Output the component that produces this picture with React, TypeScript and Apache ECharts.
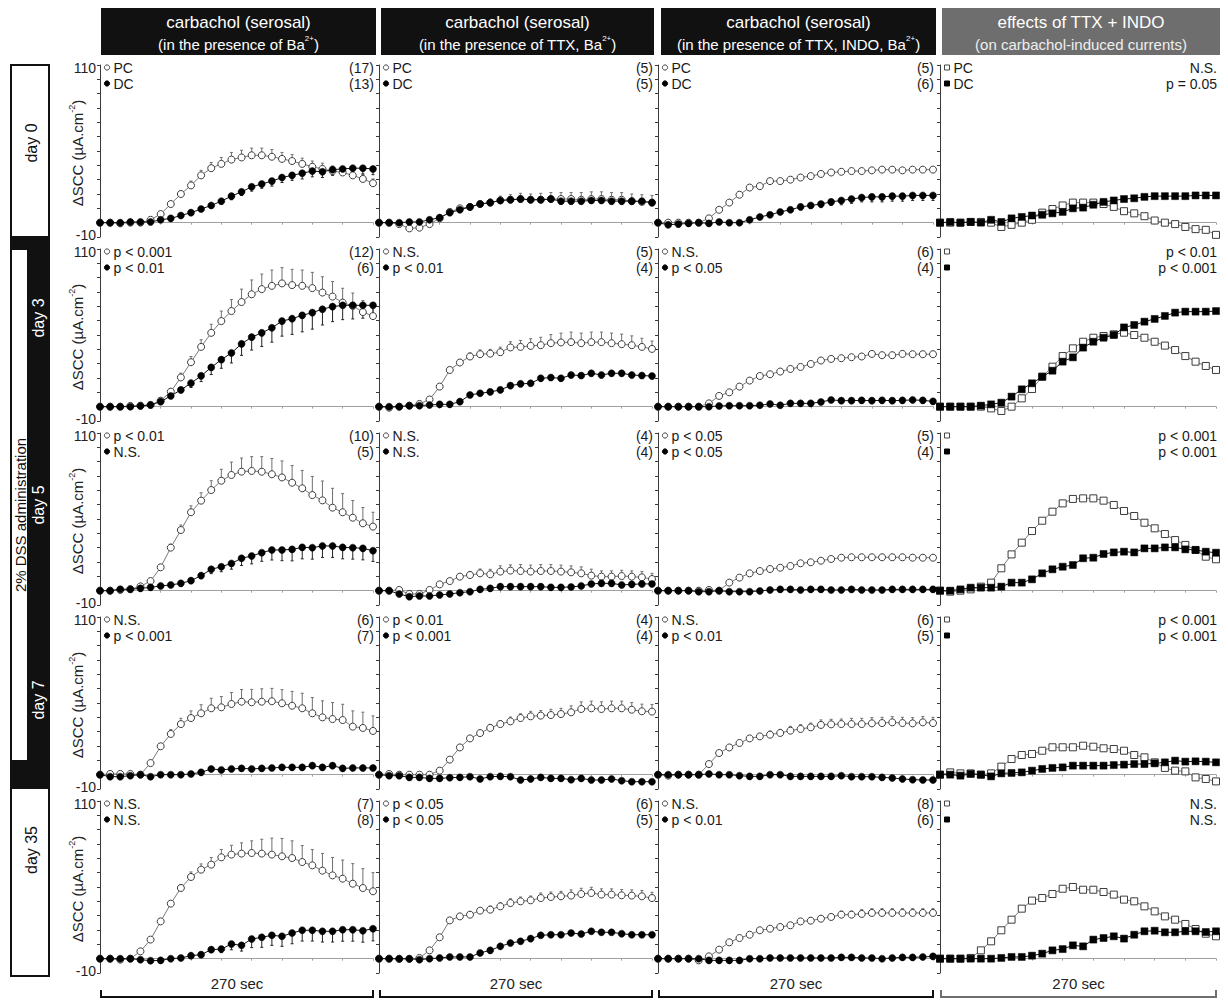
import React, { useEffect, useRef } from "react";
import * as echarts from "echarts";

// ---------------- data ----------------
const timeSec = [0, 10, 20, 30, 40, 50, 60, 70, 80, 90, 100, 110, 120, 130, 140, 150, 160, 170, 180, 190, 200, 210, 220, 230, 240, 250, 260, 270];

const rowLabels = ["day 0", "day 3", "day 5", "day 7", "day 35"];
const headerTitles = ["carbachol (serosal)", "carbachol (serosal)", "carbachol (serosal)", "effects of TTX + INDO"];
const headerSubs = ["(in the presence of Ba", "(in the presence of TTX, Ba", "(in the presence of TTX, INDO, Ba", "(on carbachol-induced currents)"];
const headerSups = ["2+", "2+", "2+", ""];
const yTickLabels = [110, -10];
const durationLabel = "270 sec";
const groupLabel = "2% DSS administration";

// day 0
const pc_d0_ba = [0, 0, -0.5, 0, 0, 2, 6, 13, 20, 26, 33, 38, 41, 44, 45.5, 47, 47, 46, 44.5, 43, 41, 39, 37.5, 36, 35, 33, 30.5, 27.5];
const pcErr_d0_ba = [0, 0, 0, 0, 0, 0.5, 1, 1.5, 2, 3, 3.5, 4, 4.5, 5, 5, 5, 5, 5, 4.5, 4.5, 4, 4, 4, 3.5, 3.5, 3.5, 3, 3];
const dc_d0_ba = [0, 0, 0, 0.5, 0.5, 0.5, 2, 3, 5, 7, 9.5, 12, 15, 18.5, 21.5, 25, 27, 29, 31.5, 33, 34.5, 36, 35.5, 37, 37.5, 38, 38, 37.5];
const dcErr_d0_ba = [0, 0, 0, 0, 0, 0, 0.5, 0.5, 1, 1, 1.5, 1.5, 2, 2.5, 2.5, 3, 3, 3.5, 3.5, 3.5, 4, 4, 4, 4, 4, 4, 4, 4];

const pc_d0_ttx = [0, 0, -1, -4, -3.5, -1, 3, 7.5, 10, 11, 13, 14, 15.5, 16, 16.5, 16, 16, 16.5, 16.5, 16.5, 16, 16.5, 16.5, 16, 16, 15, 14.5, 14];
const pcErr_d0_ttx = [0, 0, 0, 0, 0, 0, 0.5, 1, 1, 1.5, 2, 2.5, 3, 3.5, 4, 4, 4.5, 4.5, 4.5, 4.5, 5, 5, 5, 5, 5, 5, 5, 5];
const dc_d0_ttx = [0, 0, 0, 0.5, 0.5, 2, 3.5, 7, 9, 11, 13, 14, 15.5, 16, 16.5, 16, 16, 16.5, 15, 15, 15, 15.5, 15.5, 15, 15, 15, 15, 14];
const dcErr_d0_ttx = [0, 0, 0, 0, 0, 0, 0.5, 0.5, 1, 1, 1, 1.5, 1.5, 1.5, 1.5, 1.5, 2, 2, 2, 2, 2, 2, 2, 2, 2, 2, 2, 2];

const pc_d0_indo = [0, 0, 0, 0, 0, 3, 9, 14, 19.5, 24.5, 25.5, 29, 29, 30, 31.5, 32.5, 34, 35, 35.5, 36, 36, 36.5, 37, 37, 36.5, 37, 37, 37];
const pcErr_d0_indo = [0, 0, 0, 0, 0, 0, 0.5, 0.5, 0.5, 1, 1, 1, 1, 1, 1, 1, 1, 1, 1, 1, 1, 1, 1, 1, 1, 1, 1, 1];
const dc_d0_indo = [0, -1.5, -1, -0.5, 0, -0.5, 0.5, 0, 0, 2, 4, 5.5, 7.5, 9, 11, 12, 13, 14.5, 15.5, 16.5, 17.5, 18, 18, 18.5, 18.5, 19, 19, 19];
const dcErr_d0_indo = [0, 0, 0, 0, 0, 0, 0, 0, 0, 0.5, 1, 1, 1.5, 1.5, 2, 2, 2.5, 2.5, 3, 3, 3, 3.5, 3.5, 3.5, 3.5, 3.5, 3.5, 3.5];

const pc_d0_eff = [0, 0, 0, 0.5, 0.5, 0, -3, -1.5, 0, 2, 7, 9.5, 12, 14, 14, 14, 13, 11, 8, 6.5, 4.5, 1.5, 0, -1, -3, -4.5, -5, -8.5];
const dc_d0_eff = [0, 0.5, 0, 0.5, 0, 2, 0.5, 3, 4, 5, 5.5, 6.5, 7.5, 10, 10.5, 12.5, 14.5, 15.5, 16.5, 17, 18, 18.5, 18.5, 18.5, 18.5, 19, 19, 19];

// day 3
const pc_d3_ba = [0, 0, 0, 0.5, 0.7, 1.2, 4.2, 10.5, 20.4, 31, 41.7, 51.5, 59.7, 66.7, 73, 78.4, 82, 84.3, 86, 84.8, 84.3, 82.7, 79.6, 76.8, 72.6, 70.3, 66, 63.2];
const pcErr_d3_ba = [0, 0, 0, 0, 0, 0.5, 1, 2, 3, 4, 5, 6, 7, 8, 9, 10, 10.5, 11, 11, 11, 11, 11, 11, 10.5, 10, 9, 8, 7];
const dc_d3_ba = [0, 0, 0, 0, 0.5, 1.2, 3.5, 7.5, 11.7, 16.4, 21.5, 27.4, 32.8, 37.5, 43.8, 48.5, 51.5, 55, 59.7, 61.4, 63.7, 65.6, 68, 69.8, 70.7, 70.7, 70.7, 70.7];
const dcErr_d3_ba = [0, 0, 0, 0, 0, 0, 1, 1.5, 2, 3, 4, 5, 6, 7, 8, 9, 9.5, 10, 10.5, 11, 11.5, 11.5, 11, 10.5, 10, 9.5, 9, 8.5];

const pc_d3_ttx = [0, -0.7, 0, 0.7, 1.9, 5, 14, 25.6, 30.8, 35, 36.6, 37, 38, 41.3, 41.7, 42.4, 42.9, 44.3, 44.8, 45, 44.3, 45, 45, 44.3, 43.6, 42.9, 41.7, 40.3];
const pcErr_d3_ttx = [0, 0, 0, 0, 0, 0.5, 1, 1.5, 2, 2.5, 3, 3, 3.5, 4, 4.5, 5, 5.5, 6, 6.5, 7, 7, 7, 7, 7, 7, 6.5, 6, 5.5];
const dc_d3_ttx = [0, 0, 0, 0.7, 0.7, 1.2, 1.6, 1.6, 3.5, 8.2, 9.3, 10.3, 11.7, 14.7, 15.9, 16.3, 19.8, 20.3, 19.8, 22.1, 21.7, 23.3, 22.1, 23.3, 23.3, 22.1, 21.7, 21.4];
const dcErr_d3_ttx = [0, 0, 0, 0, 0, 0, 0, 0, 0.5, 1, 1, 1, 1, 1.5, 1.5, 1.5, 2, 2, 2, 2, 2, 2, 2, 2, 2, 2, 2, 2];

const pc_d3_indo = [0, 0, 0, 0, 0, 2.3, 7.5, 10, 14, 18.2, 21.4, 22.6, 24.5, 26.3, 27.7, 29.8, 32.2, 33.3, 33.8, 34.5, 35, 36.8, 35.9, 35.9, 36.8, 36.6, 36.6, 36.6];
const pcErr_d3_indo = [0, 0, 0, 0, 0, 0, 0.5, 0.5, 0.5, 0.5, 1, 1, 1, 1, 1, 1, 1.5, 1.5, 1.5, 1.5, 2, 2, 2, 2, 2, 2, 2, 2];
const dc_d3_indo = [0, 0, 0, 0, 0, 0, 0.5, 0.7, 0.7, 0.7, 1, 1.9, 1, 2.3, 2.3, 2.3, 3.3, 4.7, 4.2, 4.2, 4.4, 4.2, 4.4, 4.2, 4.4, 4.7, 4.4, 3.7];
const dcErr_d3_indo = [0, 0, 0, 0, 0, 0, 0, 0, 0, 0, 0.5, 0.5, 0.5, 0.5, 0.5, 0.5, 1, 1, 1, 1, 1, 1, 1, 1, 1, 1, 1, 1];

const pc_d3_eff = [0, 0, 0, 0, 0, -1.2, -3, 0, 5.8, 12.3, 20.9, 27.9, 35.3, 40.7, 45.3, 48.1, 49.3, 50.5, 51.6, 50, 48.1, 45.3, 42.6, 39.5, 35.3, 31.4, 28.4, 25.6];
const dc_d3_eff = [0, 0, 0, 0, 0.7, 1.6, 2.8, 7, 12.1, 16.3, 20.9, 25.1, 31.4, 34.4, 41.2, 45.3, 48.1, 50, 55.3, 57, 59.3, 61.2, 63.3, 65.6, 66.3, 66.3, 66.3, 66.7];

// day 5
const pc_d5_ba = [0, 0, 0.5, 1, 3, 6.7, 16.3, 30, 42.3, 54.7, 62.8, 70.2, 76.7, 80.7, 83, 83.5, 83, 81.2, 79, 75.3, 71.4, 66.7, 63, 57.9, 54.7, 50.9, 47, 44.7];
const pcErr_d5_ba = [0, 0, 0, 0, 0.5, 1, 1.5, 2.5, 3.5, 4.5, 5.5, 6.5, 8, 9, 9.5, 10, 10.5, 11, 11.5, 12, 12.5, 13, 13.5, 13.5, 13, 12, 11, 10];
const dc_d5_ba = [0, 0, 1, 1, 1.6, 2.3, 3.3, 4, 5.1, 7, 10.5, 14.9, 16.7, 19, 22.6, 24.2, 26.5, 28.4, 28.4, 28.8, 30.2, 30, 31.2, 31.2, 30.2, 30, 29.5, 27.9];
const dcErr_d5_ba = [0, 0, 0, 0, 0, 0.5, 0.5, 1, 1, 1.5, 2, 3, 3.5, 4, 5, 5.5, 6, 7, 7.5, 8, 8, 8, 8, 8, 8, 8, 8, 7.5];

const pc_d5_ttx = [0, 0, 0.5, -2.3, -2.3, 0.5, 4.4, 6.7, 9.8, 10.9, 12.1, 11.4, 13.3, 14, 13.7, 13.3, 13.7, 13.7, 13.3, 12.8, 12.1, 10.5, 9.8, 9.8, 10.2, 9.8, 9.3, 8.1];
const pcErr_d5_ttx = [0, 0, 0, 0, 0, 0.5, 1, 1.5, 2, 2.5, 3, 3.5, 4, 4, 4.5, 4.5, 4.5, 4.5, 4.5, 4.5, 4.5, 4.5, 4, 4, 4, 4, 4, 4];
const dc_d5_ttx = [0, 0, -2.3, -4.2, -3.7, -3.7, -3, -2.3, -1.4, -0.7, 0.9, 1.6, 2.8, 2.8, 2.8, 2.8, 2.8, 2.3, 2.3, 2.6, 3.3, 4.7, 5.1, 5.1, 4, 4.4, 4.7, 4.7];
const dcErr_d5_ttx = [0, 0, 0, 0, 0.5, 0.5, 0.5, 0.5, 0.5, 0.5, 0.5, 0.5, 1, 1, 1, 1, 1, 1, 1, 1, 1, 1, 1, 1, 1, 1, 1, 1];

const pc_d5_indo = [0, 0, 0, 0, 0, 0.5, 0, 5.6, 9.1, 12.1, 13.7, 15.1, 16, 17.2, 19.1, 19.8, 20.9, 22.1, 23, 23.3, 23.3, 23.3, 23.3, 23.3, 23.3, 23, 23, 23];
const pcErr_d5_indo = [0, 0, 0, 0, 0, 0, 0, 0.5, 0.5, 0.5, 1, 1, 1, 1, 1, 1, 1.5, 1.5, 1.5, 1.5, 2, 2, 2, 2, 2, 2, 2, 2];
const dc_d5_indo = [0, 0, 0, 0, -0.7, -0.7, 0, -0.7, -0.7, -0.7, -0.2, 0.5, 0.9, 0.9, 0.5, 0.9, 0.9, 0.5, 0.5, 0.9, 0.5, 0.5, 0.5, 0.9, 0.9, 0.9, 0.9, 0.9];
const dcErr_d5_indo = [0, 0, 0, 0, 0, 0, 0, 0, 0, 0, 0, 0.5, 0.5, 0.5, 0.5, 0.5, 0.5, 0.5, 0.5, 0.5, 0.5, 0.5, 0.5, 0.5, 0.5, 0.5, 0.5, 0.5];

const pc_d5_eff = [0, -0.7, 0, 0.9, 2.8, 5.6, 15.6, 25.3, 33.5, 41.6, 48.8, 55.1, 60.9, 64, 64.4, 64.4, 62.8, 59.8, 55.6, 52.1, 47.4, 43.5, 39.5, 35.3, 31.9, 28.4, 23.7, 21.9];
const dc_d5_eff = [0, 0, 0.9, 2.1, 2.1, 2.1, 2.8, 5.6, 5.6, 7.9, 12.1, 14.9, 16.7, 17.9, 22.6, 23, 25.6, 26.7, 27.2, 26.7, 29.5, 29.5, 30.2, 30.2, 28.8, 28.4, 27.2, 26.5];

// day 7
const pc_d7_ba = [0, 0.5, 0.5, 0.5, 0, 8.1, 19.8, 28.4, 35.3, 39.5, 42.8, 46.3, 47, 49.3, 50.9, 50.5, 50.9, 51.2, 49.8, 48.1, 46.3, 42.8, 40, 38.8, 38.1, 33.5, 32.6, 30.5];
const pcErr_d7_ba = [0, 0, 0, 0, 0, 1, 2, 3, 4, 5, 6, 7, 7.5, 8, 8.5, 9, 9, 9, 9.5, 10, 10.5, 11, 11.5, 11.5, 11, 11, 11, 10.5];
const dc_d7_ba = [0, -1.4, -1.4, -0.7, 0, -1.4, 0, 0, 0, 0.5, 1.6, 4, 3.3, 4, 4.4, 4, 4.4, 4.7, 5.1, 5.1, 5.1, 6.3, 5.1, 6.3, 4.4, 4.7, 4.7, 4.7];
const dcErr_d7_ba = [0, 0, 0, 0, 0, 0, 0, 0, 0, 0, 0.5, 0.5, 0.5, 0.5, 0.5, 1, 1, 1, 1, 1, 1, 1, 1, 1, 1, 1, 1, 1];

const pc_d7_ttx = [0, 0.5, 0, 0, 0, 0, 2.8, 10.5, 19, 25.3, 29, 32.6, 35.3, 37.2, 39.5, 40.7, 41.2, 41.6, 42.3, 43.5, 45.8, 46.3, 45.8, 46.3, 46.3, 45.3, 44.2, 44];
const pcErr_d7_ttx = [0, 0, 0, 0, 0, 0, 0.5, 1, 1.5, 2, 2, 2.5, 2.5, 3, 3, 3.5, 3.5, 4, 4, 4.5, 5, 5, 5, 5, 5, 5, 5, 5];
const dc_d7_ttx = [0, -0.7, -0.7, -1.9, -1.9, -2.6, -2.6, -2.1, -1.9, -1.4, -3, -1.4, -1.2, -1.4, -3.7, -3, -1.9, -2.6, -2.6, -3.5, -2.6, -3.7, -3.7, -3, -4.2, -4.9, -4.9, -4.9];
const dcErr_d7_ttx = [0, 0, 0, 0, 0, 0, 0, 0, 0, 0, 0.5, 0.5, 0.5, 0.5, 0.5, 0.5, 0.5, 0.5, 0.5, 0.5, 0.5, 0.5, 0.5, 0.5, 0.5, 0.5, 0.5, 0.5];

const pc_d7_indo = [0, -0.7, 0, 0, 0, 7.4, 15.1, 19, 22.1, 25.3, 26.7, 27.9, 29.1, 30.7, 31.9, 33, 34.7, 35.1, 35.3, 35.3, 35.3, 35.8, 36, 36.5, 36, 35.8, 36.5, 36];
const pcErr_d7_indo = [0, 0, 0, 0, 0, 0.5, 1, 1.5, 1.5, 2, 2, 2.5, 2.5, 3, 3, 3, 3.5, 3.5, 3.5, 4, 4, 4, 4, 4, 4, 4, 4, 4];
const dc_d7_indo = [0, 0, 0, 0, 0, 0.5, 0, 0, -0.7, -1.2, -1.2, 0, 0, -1.2, -1.2, -1.2, -1.2, -1.2, -0.7, -1.4, -1.4, -1.4, -1.9, -2.3, -3, -3.5, -3.7, -3.7];
const dcErr_d7_indo = [0, 0, 0, 0, 0, 0, 0, 0, 0, 0, 0, 0, 0, 0.5, 0.5, 0.5, 0.5, 0.5, 0.5, 0.5, 0.5, 0.5, 0.5, 0.5, 0.5, 0.5, 0.5, 0.5];

const pc_d7_eff = [0, 1.6, 0.9, 0.9, 0, 0.9, 5.6, 10.9, 13.7, 14.4, 16.7, 19.1, 19.1, 19.1, 20.2, 19.5, 18.4, 17.9, 16.7, 13.7, 12.1, 8.6, 4.7, 2.8, 2.3, -1.9, -3, -4.7];
const dc_d7_eff = [0, 0, -0.7, 0.5, 0, -1.2, 0.9, 1.2, 1.6, 2.8, 4, 4.7, 5.1, 6.3, 6.3, 6.3, 6.3, 6.7, 7, 7.4, 7.4, 7.9, 8.6, 9.8, 9.1, 9.3, 9.1, 8.6];

// day 35
const pc_d35_ba = [0, 0, -0.7, 0, 5.1, 13.3, 26, 38.4, 49.3, 57, 62.1, 65.6, 70.7, 72.6, 73.3, 73.7, 73.3, 72.6, 71.4, 70.2, 67.4, 65.1, 61.4, 58.1, 55.8, 52.3, 49.3, 47];
const pcErr_d35_ba = [0, 0, 0, 0, 0.5, 1, 1.5, 2, 2.5, 3.5, 4, 5, 5.5, 6.5, 7.5, 8.5, 10, 11.5, 12.5, 12, 11.5, 11, 12, 12.5, 13, 14, 13.5, 13];
const dc_d35_ba = [0, 0, 0, 0, -0.7, -1.4, -1.2, 0, 0.5, 2.1, 2.8, 6.3, 6.7, 10.2, 9.3, 13.7, 14.9, 16.3, 15.6, 17.9, 19.8, 19.8, 19.1, 19.1, 20.2, 20.2, 19.5, 20.9];
const dcErr_d35_ba = [0, 0, 0, 0, 0, 0, 0, 0, 0.5, 1, 1.5, 2, 2.5, 4, 4, 6, 7, 7, 7, 7.5, 7.5, 7.5, 7.5, 7.5, 8, 8, 8, 8.5];

const pc_d35_ttx = [0, 0, -0.2, -0.2, 0.5, 5.8, 14.9, 26.7, 29.5, 30.7, 33.5, 34.2, 36.5, 38.8, 40, 40.7, 42.3, 43, 43.5, 44, 45.1, 45.8, 44.7, 44.7, 44.2, 44, 43.5, 42.3];
const pcErr_d35_ttx = [0, 0, 0, 0, 0, 0.5, 1, 1.5, 1.5, 2, 2, 2.5, 2.5, 3, 3, 3, 3.5, 3.5, 3.5, 4, 4, 4, 4, 4, 4, 4, 4, 4];
const dc_d35_ttx = [0, 0, 0, 0, -0.7, 0, 0.5, 1.2, 1.2, 1.2, 4, 5.8, 8.6, 10.9, 12.1, 14, 16.3, 16.7, 16.7, 17.9, 17.2, 19.1, 18.4, 18.4, 17.4, 16.7, 16.7, 16.7];
const dcErr_d35_ttx = [0, 0, 0, 0, 0, 0, 0, 0, 0, 0, 0.5, 0.5, 1, 1, 1, 1, 1, 1, 1, 1, 1.5, 1.5, 1.5, 1.5, 1.5, 1.5, 1.5, 1.5];

const pc_d35_indo = [0, 0, 0, 0, -1.2, 1.6, 6.3, 11.4, 14.4, 16.7, 19.8, 20.9, 22.1, 23.3, 26, 26.5, 27.9, 29.1, 30.7, 30.7, 31.2, 31.9, 31.9, 31.9, 31.9, 31.9, 31.9, 31.9];
const pcErr_d35_indo = [0, 0, 0, 0, 0, 0, 0.5, 0.5, 1, 1, 1, 1, 1, 1.5, 1.5, 2, 2, 2, 2.5, 2.5, 3, 3, 3, 3, 3, 3, 3, 3];
const dc_d35_indo = [0, 0, 0, 0, 0, -1.2, -1.2, -1.2, -1.2, 0, 0, 0.5, 0.5, 0.5, 0.5, 0.5, 0.5, 0.5, 0.9, 0.9, 0.5, 0.5, 0, 0.5, 0.9, 0.9, 1.2, 1.6];
const dcErr_d35_indo = [0, 0, 0, 0, 0, 0, 0, 0, 0, 0, 0, 0, 0.5, 0.5, 0.5, 0.5, 0.5, 0.5, 0.5, 0.5, 0.5, 0.5, 0.5, 0.5, 0.5, 0.5, 0.5, 0.5];

const pc_d35_eff = [0, 0, 0, 0.5, 5.8, 12.1, 19.8, 27.2, 34.9, 40.5, 42.3, 45.1, 48.8, 50, 48.1, 48.1, 46.5, 44.7, 41.2, 40, 36.5, 33, 29.5, 27.2, 24.2, 20.7, 17.4, 15.6];
const dc_d35_eff = [0, 0, 0, 0, 0, 0, 0.5, 1.2, 1.2, 2.1, 3.5, 5.8, 6.7, 9.3, 8.6, 13.3, 14.4, 15.6, 14, 16.7, 19.1, 19.5, 18.4, 18.4, 19.1, 19.1, 18.6, 19.1];

// panel annotations: [PC line, DC line] on the left, [PC, DC] on the right
type Panel = {
  row: number; col: number;
  pc: number[]; dc: number[]; pcErr?: number[]; dcErr?: number[];
  left: string[]; right: string[];
};

const panels: Panel[] = [
  { row: 0, col: 0, pc: pc_d0_ba, dc: dc_d0_ba, pcErr: pcErr_d0_ba, dcErr: dcErr_d0_ba, left: ["PC", "DC"], right: ["(17)", "(13)"] },
  { row: 0, col: 1, pc: pc_d0_ttx, dc: dc_d0_ttx, pcErr: pcErr_d0_ttx, dcErr: dcErr_d0_ttx, left: ["PC", "DC"], right: ["(5)", "(5)"] },
  { row: 0, col: 2, pc: pc_d0_indo, dc: dc_d0_indo, pcErr: pcErr_d0_indo, dcErr: dcErr_d0_indo, left: ["PC", "DC"], right: ["(5)", "(6)"] },
  { row: 0, col: 3, pc: pc_d0_eff, dc: dc_d0_eff, left: ["PC", "DC"], right: ["N.S.", "p = 0.05"] },

  { row: 1, col: 0, pc: pc_d3_ba, dc: dc_d3_ba, pcErr: pcErr_d3_ba, dcErr: dcErr_d3_ba, left: ["p < 0.001", "p < 0.01"], right: ["(12)", "(6)"] },
  { row: 1, col: 1, pc: pc_d3_ttx, dc: dc_d3_ttx, pcErr: pcErr_d3_ttx, dcErr: dcErr_d3_ttx, left: ["N.S.", "p < 0.01"], right: ["(5)", "(4)"] },
  { row: 1, col: 2, pc: pc_d3_indo, dc: dc_d3_indo, pcErr: pcErr_d3_indo, dcErr: dcErr_d3_indo, left: ["N.S.", "p < 0.05"], right: ["(6)", "(4)"] },
  { row: 1, col: 3, pc: pc_d3_eff, dc: dc_d3_eff, left: ["", ""], right: ["p < 0.01", "p < 0.001"] },

  { row: 2, col: 0, pc: pc_d5_ba, dc: dc_d5_ba, pcErr: pcErr_d5_ba, dcErr: dcErr_d5_ba, left: ["p < 0.01", "N.S."], right: ["(10)", "(5)"] },
  { row: 2, col: 1, pc: pc_d5_ttx, dc: dc_d5_ttx, pcErr: pcErr_d5_ttx, dcErr: dcErr_d5_ttx, left: ["N.S.", "N.S."], right: ["(4)", "(4)"] },
  { row: 2, col: 2, pc: pc_d5_indo, dc: dc_d5_indo, pcErr: pcErr_d5_indo, dcErr: dcErr_d5_indo, left: ["p < 0.05", "p < 0.05"], right: ["(5)", "(4)"] },
  { row: 2, col: 3, pc: pc_d5_eff, dc: dc_d5_eff, left: ["", ""], right: ["p < 0.001", "p < 0.001"] },

  { row: 3, col: 0, pc: pc_d7_ba, dc: dc_d7_ba, pcErr: pcErr_d7_ba, dcErr: dcErr_d7_ba, left: ["N.S.", "p < 0.001"], right: ["(6)", "(7)"] },
  { row: 3, col: 1, pc: pc_d7_ttx, dc: dc_d7_ttx, pcErr: pcErr_d7_ttx, dcErr: dcErr_d7_ttx, left: ["p < 0.01", "p < 0.001"], right: ["(4)", "(4)"] },
  { row: 3, col: 2, pc: pc_d7_indo, dc: dc_d7_indo, pcErr: pcErr_d7_indo, dcErr: dcErr_d7_indo, left: ["N.S.", "p < 0.01"], right: ["(6)", "(5)"] },
  { row: 3, col: 3, pc: pc_d7_eff, dc: dc_d7_eff, left: ["", ""], right: ["p < 0.001", "p < 0.001"] },

  { row: 4, col: 0, pc: pc_d35_ba, dc: dc_d35_ba, pcErr: pcErr_d35_ba, dcErr: dcErr_d35_ba, left: ["N.S.", "N.S."], right: ["(7)", "(8)"] },
  { row: 4, col: 1, pc: pc_d35_ttx, dc: dc_d35_ttx, pcErr: pcErr_d35_ttx, dcErr: dcErr_d35_ttx, left: ["p < 0.05", "p < 0.05"], right: ["(6)", "(5)"] },
  { row: 4, col: 2, pc: pc_d35_indo, dc: dc_d35_indo, pcErr: pcErr_d35_indo, dcErr: dcErr_d35_indo, left: ["N.S.", "p < 0.01"], right: ["(8)", "(6)"] },
  { row: 4, col: 3, pc: pc_d35_eff, dc: dc_d35_eff, left: ["", ""], right: ["N.S.", "N.S."] },
];

// ---------------- layout ----------------
const FONT = "'Liberation Sans', Arial, Helvetica, sans-serif";
const colX = [100, 379, 658, 940];
const colW = [273, 273, 275, 276];
const rowTop = [65, 249, 433, 617, 801];
const panelH = 172;
const headerX = [101, 381, 661, 942];
const headerW = [275, 273, 275, 278];
const headerFill = ["#111111", "#111111", "#111111", "#6e6e6e"];
const bracketColor = ["#111111", "#111111", "#111111", "#6e6e6e"];

function errRender(dir: number, color: string) {
  return (params: any, api: any) => {
    const e = api.value(2);
    if (!e) return { type: "group", children: [] };
    const x = api.value(0);
    const y = api.value(1);
    const p0 = api.coord([x, y]);
    const p1 = api.coord([x, y + dir * e]);
    return {
      type: "group",
      children: [
        { type: "line", shape: { x1: p0[0], y1: p0[1], x2: p1[0], y2: p1[1] }, style: { stroke: color, lineWidth: 1 } },
        { type: "line", shape: { x1: p1[0] - 1.5, y1: p1[1], x2: p1[0] + 1.5, y2: p1[1] }, style: { stroke: color, lineWidth: 1 } },
      ],
    };
  };
}

function buildOption() {
  const grid: any[] = [];
  const xAxis: any[] = [];
  const yAxis: any[] = [];
  const series: any[] = [];
  const graphic: any[] = [];

  panels.forEach((p, k) => {
    const left = colX[p.col];
    const top = rowTop[p.row];
    const w = colW[p.col];
    const square = p.col === 3;
    grid.push({ left, top, width: w, height: panelH });
    xAxis.push({
      gridIndex: k, type: "value", min: 0, max: 270, interval: 30,
      axisLine: { show: true, onZero: true, lineStyle: { color: "#a0a0a0", width: 1 } },
      axisTick: { show: true, length: 2, lineStyle: { color: "#a0a0a0" } },
      axisLabel: { show: false }, splitLine: { show: false },
    });
    yAxis.push({
      gridIndex: k, type: "value", min: -10, max: 110, interval: 10,
      axisLine: { show: true, lineStyle: { color: "#3a3a3a", width: 1 } },
      axisTick: { show: true, length: 3, lineStyle: { color: "#3a3a3a" } },
      axisLabel: {
        show: p.col === 0, margin: 4, fontSize: 14, color: "#222", fontFamily: FONT,
        formatter: (v: number) => (v === yTickLabels[0] ? `{t|${v}}` : v === yTickLabels[1] ? `{b|${v}}` : ""),
        rich: {
          t: { fontSize: 14, fontFamily: FONT, color: "#222", padding: [5, 0, 0, 0] },
          b: { fontSize: 14, fontFamily: FONT, color: "#222", padding: [0, 0, 5, 0] },
        },
      },
      splitLine: { show: false },
    });
    const pcData = timeSec.map((t, i) => [t, p.pc[i], p.pcErr ? p.pcErr[i] : 0]);
    const dcData = timeSec.map((t, i) => [t, p.dc[i], p.dcErr ? p.dcErr[i] : 0]);
    if (p.pcErr) {
      series.push({ type: "custom", xAxisIndex: k, yAxisIndex: k, data: pcData, renderItem: errRender(1, "#707070"), z: 2, silent: true });
    }
    if (p.dcErr) {
      series.push({ type: "custom", xAxisIndex: k, yAxisIndex: k, data: dcData, renderItem: errRender(-1, "#222"), z: 2, silent: true });
    }
    series.push({
      type: "line", xAxisIndex: k, yAxisIndex: k, data: pcData.map((d) => [d[0], d[1]]),
      symbol: square ? "rect" : "circle", symbolSize: 7, showAllSymbol: true, silent: true,
      lineStyle: { color: "#7a7a7a", width: 1 },
      itemStyle: { color: "#ffffff", borderColor: "#3c3c3c", borderWidth: 1 }, z: 3,
    });
    series.push({
      type: "line", xAxisIndex: k, yAxisIndex: k, data: dcData.map((d) => [d[0], d[1]]),
      symbol: square ? "rect" : "circle", symbolSize: 7, showAllSymbol: true, silent: true,
      lineStyle: { color: "#111", width: 1 },
      itemStyle: { color: "#000", borderColor: "#000", borderWidth: 0.5 }, z: 4,
    });

    // annotations (legend symbols + texts)
    const ys = [top + 2.5, top + 18.5];
    ys.forEach((yy, j) => {
      const cx = left + 7;
      if (square) {
        graphic.push({ type: "rect", shape: { x: cx - 2.5, y: yy - 2.5, width: 5, height: 5 }, style: { fill: j === 0 ? "#fff" : "#000", stroke: j === 0 ? "#444" : "#000", lineWidth: 1 } });
      } else {
        graphic.push({ type: "circle", shape: { cx, cy: yy, r: 2.6 }, style: { fill: j === 0 ? "#fff" : "#000", stroke: j === 0 ? "#444" : "#000", lineWidth: 1 } });
      }
      if (p.left[j]) {
        graphic.push({ type: "text", x: left + 13.5, y: yy, style: { text: p.left[j], fill: "#1a1a1a", font: `14px ${FONT}`, align: "left", verticalAlign: "middle" } });
      }
      graphic.push({ type: "text", x: left + w + 1, y: yy, style: { text: p.right[j], fill: "#1a1a1a", font: `14px ${FONT}`, align: "right", verticalAlign: "middle" } });
    });
  });

  // y axis names (column 1)
  rowTop.forEach((t) => {
    graphic.push({
      type: "text", x: 76, y: t + 88, rotation: Math.PI / 2,
      style: {
        text: "{a|ΔSCC (µA.cm}{s|-2}{a|)}", align: "center", verticalAlign: "middle",
        rich: {
          a: { fontSize: 15, fontFamily: FONT, fill: "#222", lineHeight: 18, verticalAlign: "bottom" },
          s: { fontSize: 9, fontFamily: FONT, fill: "#222", lineHeight: 18, verticalAlign: "top", padding: [0, 0, 6, 0] },
        },
      },
    });
  });

  // headers
  headerX.forEach((hx, c) => {
    graphic.push({ type: "rect", shape: { x: hx, y: 8, width: headerW[c], height: 47 }, style: { fill: headerFill[c] } });
    graphic.push({ type: "text", x: hx + headerW[c] / 2, y: 22, style: { text: headerTitles[c], fill: "#fff", font: `17px ${FONT}`, align: "center", verticalAlign: "middle" } });
    const sub = headerSups[c]
      ? `{n|${headerSubs[c]}}{s|${headerSups[c]}}{n|)}`
      : `{n|${headerSubs[c]}}`;
    graphic.push({
      type: "text", x: hx + headerW[c] / 2, y: 43,
      style: {
        text: sub, align: "center", verticalAlign: "middle",
        rich: {
          n: { fontSize: 15, fontFamily: FONT, fill: c === 3 ? "#eeeeee" : "#fff", lineHeight: 18, verticalAlign: "bottom" },
          s: { fontSize: 8, fontFamily: FONT, fill: "#fff", lineHeight: 18, verticalAlign: "top", padding: [0, 0, 6, 0] },
        },
      },
    });
  });

  // bottom brackets
  colX.forEach((cx, c) => {
    const x1 = cx + 1;
    const x2 = cx + colW[c];
    graphic.push({ type: "polyline", shape: { points: [[x1, 990], [x1, 997], [x2, 997], [x2, 990]] }, style: { stroke: bracketColor[c], lineWidth: 2, fill: null } });
    graphic.push({ type: "text", x: (x1 + x2) / 2, y: 983, style: { text: durationLabel, fill: "#222", font: `15px ${FONT}`, align: "center", verticalAlign: "middle" } });
  });

  // left row labels
  graphic.push({ type: "rect", shape: { x: 11, y: 65, width: 38, height: 172 }, style: { fill: "#fff", stroke: "#111", lineWidth: 2 } });
  graphic.push({ type: "text", x: 31, y: 143, rotation: Math.PI / 2, style: { text: rowLabels[0], fill: "#111", font: `16px ${FONT}`, align: "center", verticalAlign: "middle" } });
  graphic.push({ type: "rect", shape: { x: 10, y: 237, width: 40, height: 550 }, style: { fill: "#111" } });
  graphic.push({ type: "rect", shape: { x: 12, y: 250, width: 15, height: 510 }, style: { fill: "#fff" } });
  graphic.push({ type: "text", x: 20, y: 515, rotation: Math.PI / 2, style: { text: groupLabel, fill: "#111", font: `15px ${FONT}`, align: "center", verticalAlign: "middle" } });
  graphic.push({ type: "text", x: 38, y: 318, rotation: Math.PI / 2, style: { text: rowLabels[1], fill: "#fff", font: `16px ${FONT}`, align: "center", verticalAlign: "middle" } });
  graphic.push({ type: "text", x: 38, y: 505, rotation: Math.PI / 2, style: { text: rowLabels[2], fill: "#fff", font: `16px ${FONT}`, align: "center", verticalAlign: "middle" } });
  graphic.push({ type: "text", x: 38, y: 700, rotation: Math.PI / 2, style: { text: rowLabels[3], fill: "#fff", font: `16px ${FONT}`, align: "center", verticalAlign: "middle" } });
  graphic.push({ type: "rect", shape: { x: 11, y: 788, width: 38, height: 188 }, style: { fill: "#fff", stroke: "#111", lineWidth: 2 } });
  graphic.push({ type: "text", x: 31, y: 850, rotation: Math.PI / 2, style: { text: rowLabels[4], fill: "#111", font: `16px ${FONT}`, align: "center", verticalAlign: "middle" } });

  return {
    animation: false,
    backgroundColor: "#ffffff",
    textStyle: { fontFamily: FONT },
    grid, xAxis, yAxis, series, graphic,
  };
}

export default function App() {
  const ref = useRef<HTMLDivElement>(null);
  useEffect(() => {
    document.body.style.margin = "0";
    if (!ref.current) return;
    const chart = echarts.init(ref.current, undefined, { renderer: "svg" });
    chart.setOption(buildOption() as any);
    return () => chart.dispose();
  }, []);
  return (
    <div
      ref={ref}
      style={{ position: "absolute", left: 0, top: 0, width: 1228, height: 1001, overflow: "hidden", background: "#fff" }}
    />
  );
}
